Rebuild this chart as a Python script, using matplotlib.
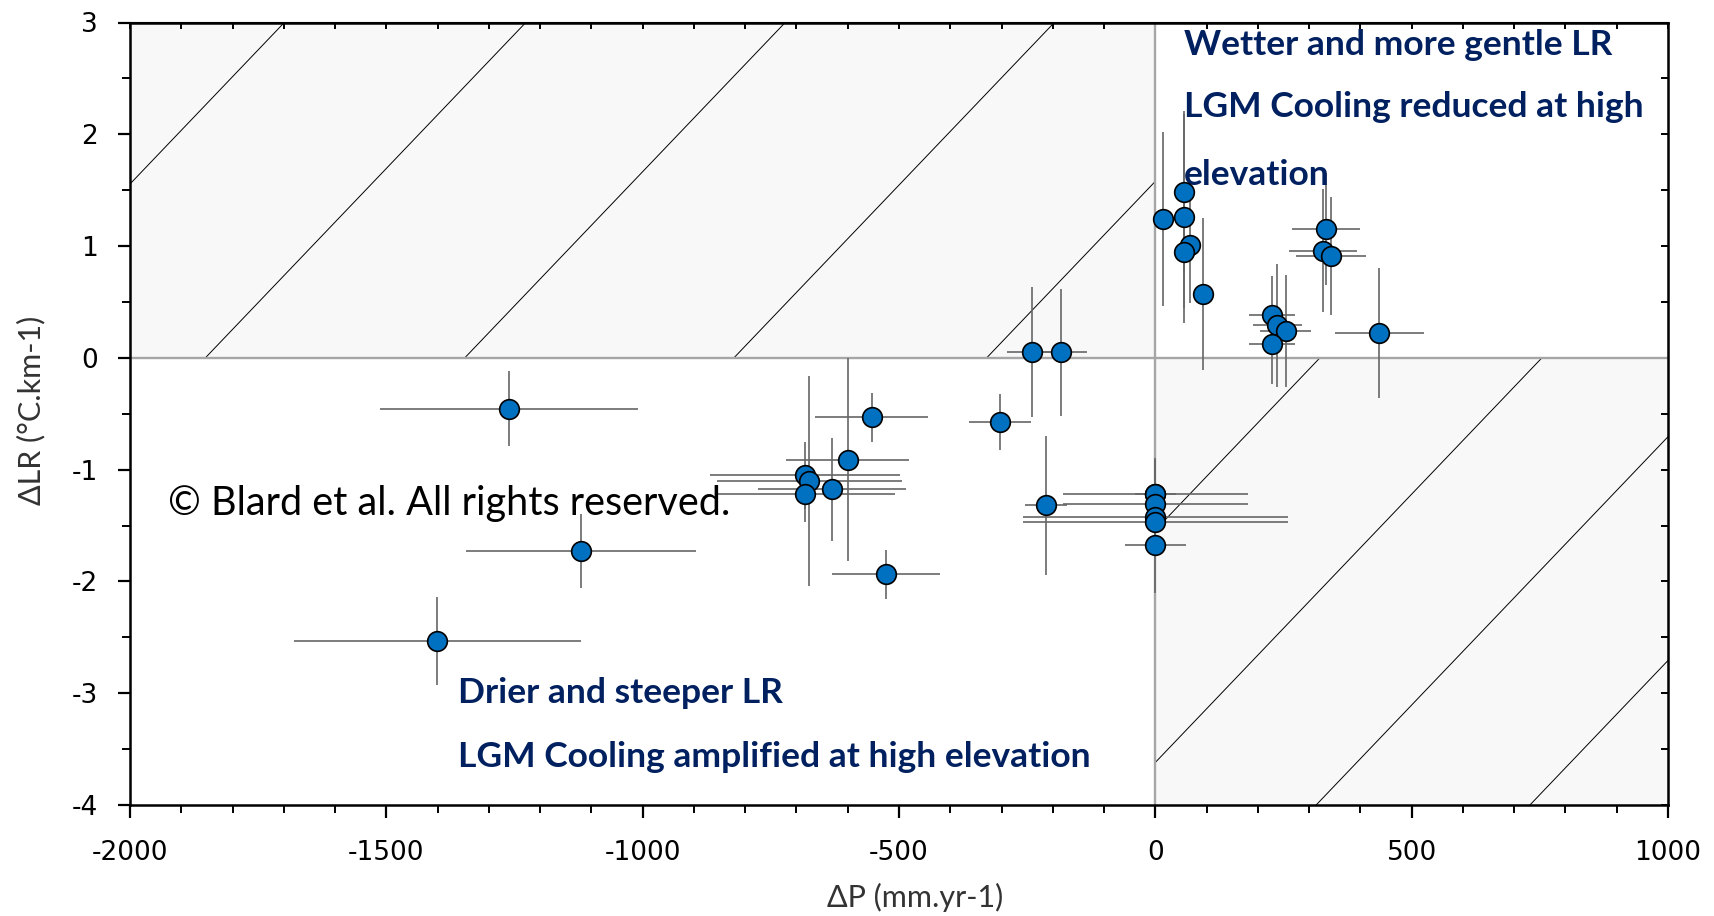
import numpy as np
import matplotlib.pyplot as plt
from matplotlib.patches import Rectangle

plt.rcParams['axes.unicode_minus'] = False

# ── Data: change in precipitation vs change in lapse rate ─────
dP = [56, 14, 56, 68, 56, 93, 333, 327, 342, 228, 238, 254, 228, 437,
      -240, -184, -303, -214,
      0, 0, 0, 0, 0, 0,
      -683, -675, -683, -631, -600, -553, -526,
      -1261, -1120, -1401]
dLR = [1.48, 1.24, 1.26, 1.01, 0.95, 0.57, 1.15, 0.96, 0.91, 0.38, 0.29, 0.24, 0.12, 0.22,
       0.05, 0.05, -0.575, -1.32,
       -1.215, -1.22, -1.31, -1.42, -1.47, -1.675,
       -1.05, -1.10, -1.22, -1.175, -0.91, -0.53, -1.935,
       -0.455, -1.727, -2.533]
dP_err = [15, 10, 15, 15, 15, 20, 66, 66, 68, 45, 48, 50, 45, 87,
          50, 50, 60, 41,
          40, 180, 180, 258, 258, 60,
          185, 180, 175, 145, 120, 110, 105,
          252, 224, 280]
dLR_err = [0.7, 0.78, 0.95, 0.52, 0.5, 0.68, 0.5, 0.55, 0.53, 0.35, 0.55, 0.5, 0.35, 0.58,
           0.58, 0.57, 0.25, 0.62,
           0.3, 0.32, 0.2, 0.2, 0.2, 0.43,
           0.3, 0.94, 0.25, 0.46, 0.91, 0.22, 0.22,
           0.335, 0.33, 0.39]

# guide lines in the two shaded quadrants: x where each crosses dLR = 0
hatch_ul_x0 = [-2324, -1853, -1347, -822, -329]
hatch_lr_x0 = [321, 754, 1147, 1564]
hatch_slope = 0.0048

xlim = (-2000, 1000)
ylim = (-4, 3)

navy = '#002060'
blue = '#0070C0'
gray = '#a6a6a6'

# ── Figure ────────────────────────────────────────────────────
fig = plt.figure(figsize=(17.15, 9.16), dpi=100)
ax = fig.add_axes([130 / 1715, 111 / 916, 1538 / 1715, 782.5 / 916])
ax.set_xlim(*xlim)
ax.set_ylim(*ylim)

# shaded quadrants
shade_ul = Rectangle((xlim[0], 0), -xlim[0], ylim[1], facecolor='#f8f8f8',
                     edgecolor='none', zorder=0)
shade_lr = Rectangle((0, ylim[0]), xlim[1], -ylim[0], facecolor='#f8f8f8',
                     edgecolor='none', zorder=0)
ax.add_patch(shade_ul)
ax.add_patch(shade_lr)

for x0s, patch in [(hatch_ul_x0, shade_ul), (hatch_lr_x0, shade_lr)]:
    for x0 in x0s:
        xs = np.array([x0 - 1000, x0 + 1000])
        ln, = ax.plot(xs, (xs - x0) * hatch_slope, color='black', lw=0.7, zorder=1)
        ln.set_clip_path(patch)

# zero lines
ax.axhline(0, color=gray, lw=1.7, zorder=2)
ax.axvline(0, color=gray, lw=1.7, zorder=2)

# points with error bars
ax.errorbar(dP, dLR, xerr=dP_err, yerr=dLR_err, fmt='none',
            ecolor='#666666', elinewidth=1.2, capsize=0, zorder=3)
ax.scatter(dP, dLR, s=200, facecolor=blue, edgecolor='black', linewidth=1.2, zorder=4)

# ── Annotations ───────────────────────────────────────────────
txt = dict(color=navy, fontsize=25.5, fontweight='bold', family='Lato', va='center', ha='left')
ax.text(55, 2.8, 'Wetter and more gentle LR', **txt)
ax.text(55, 2.24, 'LGM Cooling reduced at high', **txt)
ax.text(55, 1.64, 'elevation', **txt)
ax.text(-1360, -3.0, 'Drier and steeper LR', **txt)
ax.text(-1360, -3.57, 'LGM Cooling amplified at high elevation', **txt)
ax.text(-1925, -1.3, '\u00a9 Blard et al. All rights reserved.', fontsize=28.5,
        family='Lato', color='black', va='center', ha='left', zorder=5)

# ── Axes styling ──────────────────────────────────────────────
ax.set_xticks(np.arange(-2000, 1001, 500))
ax.set_xticks(np.arange(-2000, 1001, 100), minor=True)
ax.set_yticks(np.arange(-4, 3.1, 1))
ax.set_yticks(np.arange(-4, 3.1, 0.5), minor=True)
ax.tick_params(which='major', direction='out', length=9, width=1.6, labelsize=19,
               colors='black')
ax.tick_params(which='minor', direction='out', length=6, width=1.4)
ax.tick_params(axis='x', pad=16)
ax.tick_params(axis='y', pad=14)
for s in ax.spines.values():
    s.set_linewidth(1.8)

top = ax.secondary_xaxis('top')
top.set_xticks(np.arange(-2000, 1001, 100))
top.tick_params(direction='in', length=5, width=1.4, labeltop=False)
right = ax.secondary_yaxis('right')
right.set_yticks(np.arange(-4, 3.1, 0.5))
right.tick_params(direction='in', length=5, width=1.4, labelright=False)

fig.text(915 / 1715, 1 - 897 / 916, '\u0394P (mm.yr-1)', fontsize=22, family='Lato',
         color='#333333', ha='center', va='center')
fig.text(31 / 1715, 1 - 410 / 916, '\u0394LR (\u00b0C.km-1)', fontsize=22, family='Lato',
         color='#333333', ha='center', va='center', rotation=90)

fig.savefig('out.png', dpi=100)
